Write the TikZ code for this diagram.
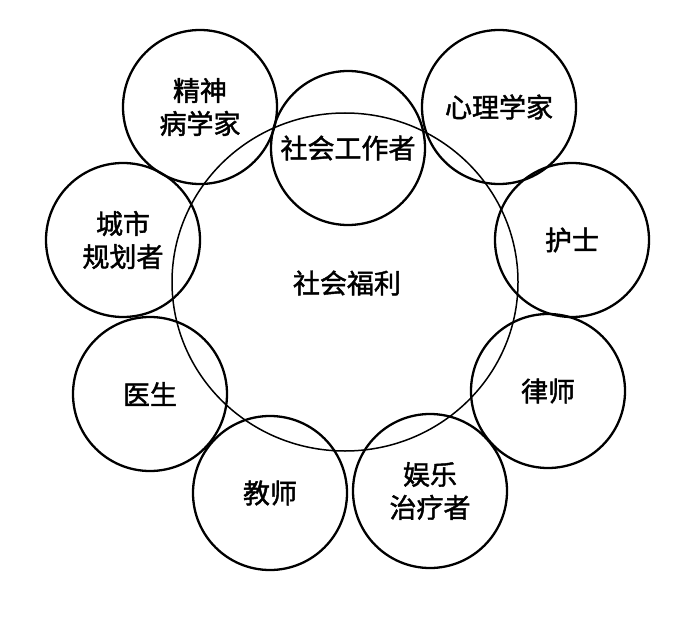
\documentclass[tikz,border=0pt]{standalone}
\usepackage{fontspec}
\newfontfamily\cjk{Noto Sans CJK SC}[FakeBold=1.6]
\usetikzlibrary{shapes.geometric}
\tikzset{
  role/.style={circle, draw=black, line width=2.3pt, inner sep=0pt, minimum size=154pt, align=center,
    font=\cjk\fontsize{27}{33}\selectfont},
  hub/.style={ellipse, draw=black, line width=1.5pt, inner sep=0pt, minimum width=346pt, minimum height=338pt,
    font=\cjk\fontsize{27}{33}\selectfont}
}
\begin{document}
\begin{tikzpicture}[x=1pt,y=-1pt]
\fill[white] (0,0) rectangle (700,617);
\useasboundingbox (0,0) rectangle (700,617);
\node[hub] (welfare) at (345,282) {};
\node[font=\cjk\fontsize{27}{33}\selectfont] (welfaretext) at (347,283) {社会福利};
\node[role] (psych) at (200,107) {精神\\病学家};
\node[role] (social) at (348,148) {社会工作者};
\node[role] (psycho) at (499,107) {心理学家};
\node[role] (nurse) at (572,240) {护士};
\node[role] (lawyer) at (548,391) {律师};
\node[role] (recre) at (430,491) {娱乐\\治疗者};
\node[role] (teacher) at (270,493) {教师};
\node[role] (doctor) at (150,394) {医生};
\node[role] (planner) at (123,240) {城市\\规划者};
\end{tikzpicture}
\end{document}
